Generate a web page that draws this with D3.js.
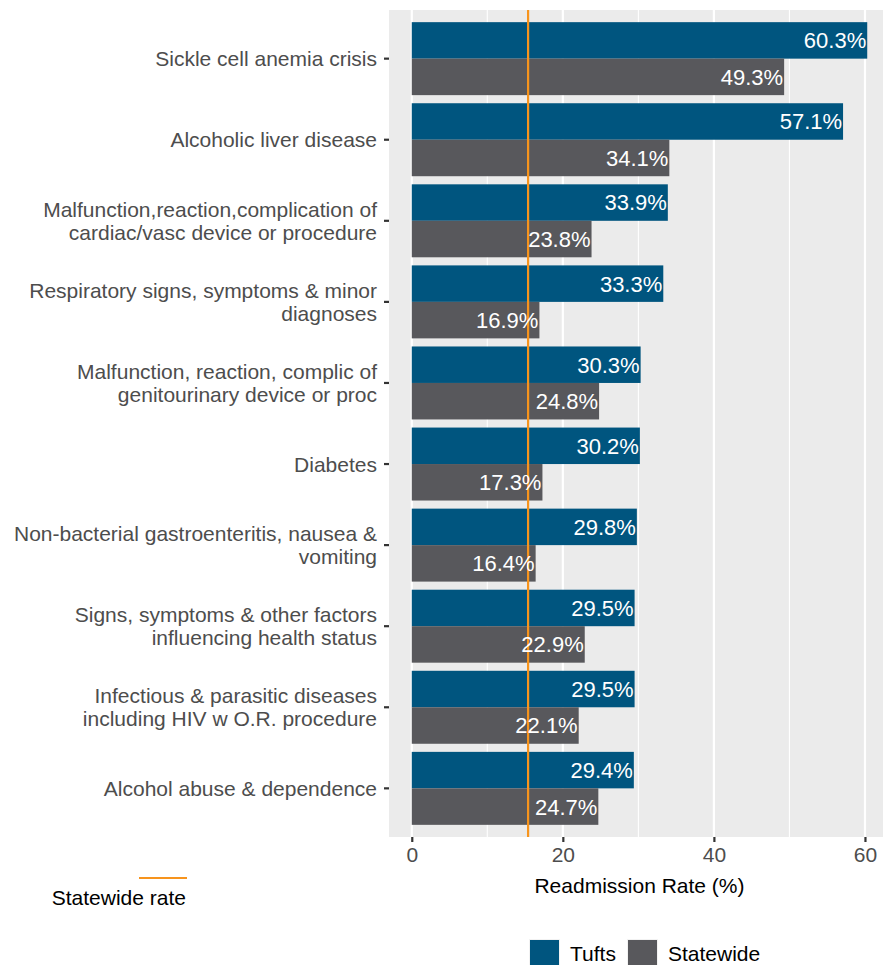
<!DOCTYPE html>
<html><head><meta charset="utf-8">
<script src="https://cdn.jsdelivr.net/npm/d3@7"></script>
<style>body{margin:0;background:#fff}svg{display:block;font-family:"Liberation Sans",Arial,sans-serif}</style>
</head><body><svg id="c" width="883" height="965"></svg>
<script>
const categories = [
  ["Sickle cell anemia crisis"],
  ["Alcoholic liver disease"],
  ["Malfunction,reaction,complication of","cardiac/vasc device or procedure"],
  ["Respiratory signs, symptoms & minor","diagnoses"],
  ["Malfunction, reaction, complic of","genitourinary device or proc"],
  ["Diabetes"],
  ["Non-bacterial gastroenteritis, nausea &","vomiting"],
  ["Signs, symptoms & other factors","influencing health status"],
  ["Infectious & parasitic diseases","including HIV w O.R. procedure"],
  ["Alcohol abuse & dependence"]
];
const tufts = [60.3, 57.1, 33.9, 33.3, 30.3, 30.2, 29.8, 29.5, 29.5, 29.4];
const statewide = [49.3, 34.1, 23.8, 16.9, 24.8, 17.3, 16.4, 22.9, 22.1, 24.7];
const series = ["Tufts", "Statewide"];
const statewideRate = 15.4;
const xTicks = [0, 20, 40, 60];
const xMinor = [10, 30, 50];

const colors = {Tufts: "#00557f", Statewide: "#58585c"};
const FS = 21;
const svg = d3.select("#c");
const P = {l: 389, r: 890, t: 10, b: 837};
const maxV = d3.max(tufts.concat(statewide));
const pad = maxV * 0.05;
const x = d3.scaleLinear().domain([-pad, maxV + pad]).range([P.l, P.r]);
const idx = d3.range(categories.length);
// ggplot discrete expansion 0.6 units
const step = (P.b - P.t) / (categories.length - 1 + 1.2);
const y = d3.scaleLinear().domain([-0.6, categories.length - 0.4]).range([P.t, P.b]);
const yc = i => y(i);
const bw = step * 0.9;

svg.append("rect").attr("x", P.l).attr("y", P.t).attr("width", P.r - P.l).attr("height", P.b - P.t).attr("fill", "#ebebeb");
svg.selectAll(".minor").data(xMinor).join("line")
  .attr("x1", d => x(d)).attr("x2", d => x(d)).attr("y1", P.t).attr("y2", P.b)
  .attr("stroke", "#fff").attr("stroke-width", 1.1);
svg.selectAll(".major").data(xTicks).join("line")
  .attr("x1", d => x(d)).attr("x2", d => x(d)).attr("y1", P.t).attr("y2", P.b)
  .attr("stroke", "#fff").attr("stroke-width", 2.2);

const g = svg.append("g");
idx.forEach(i => {
  const vals = [tufts[i], statewide[i]];
  vals.forEach((v, j) => {
    const top = yc(i) - bw / 2 + j * bw / 2;
    g.append("rect").attr("x", x(0)).attr("y", top).attr("width", x(v) - x(0)).attr("height", bw / 2)
      .attr("fill", colors[series[j]]);
  });
});
svg.append("line").attr("x1", x(statewideRate)).attr("x2", x(statewideRate)).attr("y1", P.t).attr("y2", P.b)
  .attr("stroke", "#f7941d").attr("stroke-width", 2.2);
idx.forEach(i => {
  const vals = [tufts[i], statewide[i]];
  vals.forEach((v, j) => {
    const top = yc(i) - bw / 2 + j * bw / 2;
    svg.append("text").attr("x", x(v) - 1).attr("y", top + bw / 4).attr("dy", "0.36em")
      .attr("text-anchor", "end").attr("fill", "#fff").attr("font-size", 22).text(v.toFixed(1) + "%");
  });
});

// y axis
idx.forEach(i => {
  svg.append("line").attr("x1", P.l - 5).attr("x2", P.l).attr("y1", yc(i)).attr("y2", yc(i))
    .attr("stroke", "#333").attr("stroke-width", 2.2);
  const lines = categories[i];
  const lh = 23;
  lines.forEach((t, k) => {
    svg.append("text").attr("x", P.l - 12).attr("y", yc(i) + (k - (lines.length - 1) / 2) * lh).attr("dy", "0.36em")
      .attr("text-anchor", "end").attr("fill", "#4d4d4d").attr("font-size", FS).text(t);
  });
});
// x axis
const xa = svg.append("g").attr("transform", `translate(0,${P.b})`)
  .call(d3.axisBottom(x).tickValues(xTicks).tickSize(5).tickPadding(5).tickFormat(d3.format("d")));
xa.select(".domain").remove();
xa.selectAll(".tick line").attr("stroke", "#333").attr("stroke-width", 2.2);
xa.selectAll(".tick text").attr("fill", "#4d4d4d").attr("font-size", FS).attr("font-family", "Liberation Sans, Arial, sans-serif");
svg.append("text").attr("x", (P.l + P.r) / 2).attr("y", 893).attr("text-anchor", "middle")
  .attr("font-size", FS).attr("fill", "#000").text("Readmission Rate (%)");

// statewide rate legend
svg.append("line").attr("x1", 139).attr("x2", 187).attr("y1", 878).attr("y2", 878).attr("stroke", "#f7941d").attr("stroke-width", 2.2);
svg.append("text").attr("x", 186).attr("y", 905).attr("text-anchor", "end").attr("font-size", FS).attr("fill", "#000").text("Statewide rate");

// fill legend
const lg = [{k: "Tufts", x: 530}, {k: "Statewide", x: 628}];
lg.forEach(d => {
  svg.append("rect").attr("x", d.x - 1).attr("y", 939).attr("width", 31).attr("height", 31).attr("fill", "#f2f2f2");
  svg.append("rect").attr("x", d.x).attr("y", 940).attr("width", 29).attr("height", 29).attr("fill", colors[d.k]);
  svg.append("text").attr("x", d.x + 40).attr("y", 961).attr("font-size", FS).attr("fill", "#000").text(d.k);
});
</script></body></html>
